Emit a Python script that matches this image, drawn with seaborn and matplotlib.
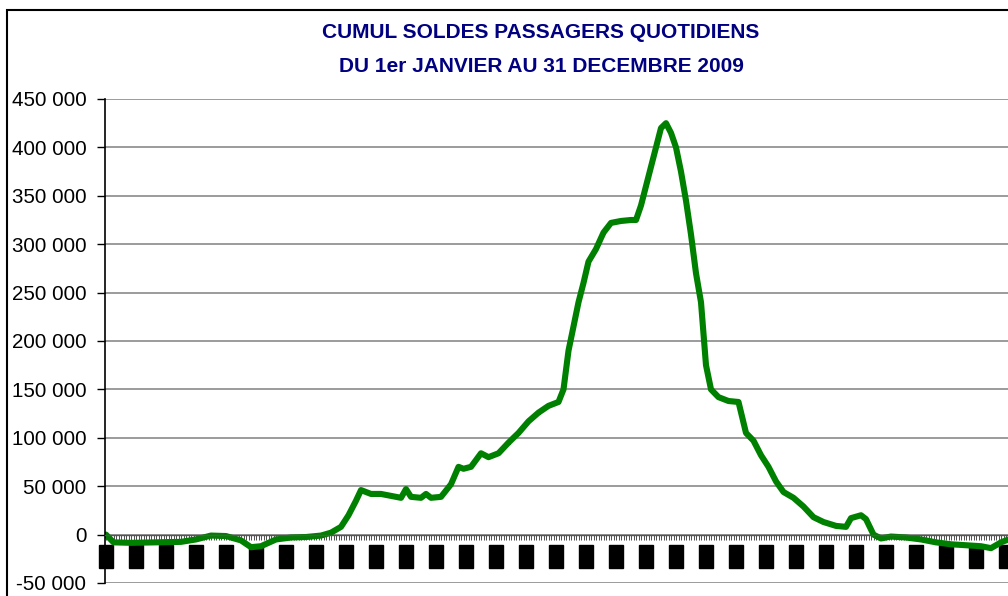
import numpy as np
import pandas as pd
import matplotlib
matplotlib.use("Agg")
import matplotlib.pyplot as plt
import matplotlib.ticker as mticker
from matplotlib.patches import Rectangle
import seaborn as sns

# cumul des soldes (jour de l'annee -> passagers)
jours = [0, 3, 10, 20, 30, 36, 42, 48, 54, 58, 62, 68, 74, 80, 86, 90, 94, 97,
         100, 102, 106, 110, 114, 118, 120, 122, 126, 128, 130, 134, 138, 141,
         143, 146, 150, 153, 157, 161, 165, 169, 173, 177, 181, 183, 185, 187,
         189, 191, 193, 196, 199, 202, 206, 210, 212, 214, 217, 220, 222, 224,
         226, 228, 230, 232, 234, 236, 238, 240, 242, 245, 249, 253, 256, 259,
         262, 265, 268, 271, 275, 279, 283, 287, 292, 296, 298, 302, 304, 307,
         310, 314, 320, 326, 332, 338, 344, 350, 354, 358, 362, 364]
soldes = [0, -8000, -8500, -8000, -7500, -5000, -1000, -1500, -6000, -13000,
          -12000, -5000, -3000, -2500, -1000, 2000, 8000, 20000, 35000, 46000,
          42000, 42000, 40000, 38000, 47000, 39000, 38000, 42000, 38000, 39000,
          52000, 70000, 68000, 70000, 84000, 80000, 84000, 95000, 105000,
          117000, 126000, 133000, 137000, 150000, 190000, 215000, 240000,
          260000, 282000, 295000, 312000, 322000, 324000, 325000, 325000,
          340000, 370000, 400000, 420000, 425000, 415000, 400000, 375000,
          345000, 310000, 270000, 240000, 175000, 150000, 142000, 138000,
          137000, 105000, 97000, 82000, 70000, 55000, 44000, 38000, 29000,
          18000, 13000, 9000, 8000, 17000, 20000, 16000, 0, -4000, -2000,
          -3000, -5000, -8000, -10000, -11000, -12000, -14000, -8000, -4000,
          -3000]

dates = pd.date_range("2009-01-01", periods=365, freq="D")
pas_etiquette = 12
etiquettes = [d.strftime("%d\n%m") for d in dates[::pas_etiquette]]

titre = "CUMUL SOLDES PASSAGERS QUOTIDIENS\nDU 1er JANVIER AU 31 DECEMBRE 2009"

df = pd.DataFrame({"jour": jours, "solde": soldes})

sns.set_theme(style="white")
plt.rcParams["font.family"] = ["Liberation Sans", "DejaVu Sans"]

W, H = 1008, 596
fig = plt.figure(figsize=(W / 100, H / 100), dpi=100)
ax = fig.add_axes([105 / W, 13 / H, 912.5 / W, 484 / H])

sns.lineplot(data=df, x="jour", y="solde", color="#008000", linewidth=4.4,
             marker="s", markersize=3.5, markeredgewidth=0, ax=ax)

ax.set_xlim(-0.4, 364.6)
ax.set_ylim(-50000, 450000)
ax.yaxis.set_major_locator(mticker.MultipleLocator(50000))
ax.yaxis.set_major_formatter(
    mticker.FuncFormatter(lambda v, p: f"{int(v):,}".replace(",", " ")))
ax.grid(axis="y", color="#808080", linewidth=1.1)
ax.set_axisbelow(True)

for s in ["top", "right"]:
    ax.spines[s].set_visible(False)
ax.spines["left"].set_color("black")
ax.spines["left"].set_linewidth(1.2)
ax.spines["bottom"].set_position(("data", 0))
ax.spines["bottom"].set_color("#555555")
ax.spines["bottom"].set_linewidth(1.0)

ax.set_xticks(np.arange(0, 365, pas_etiquette))
ax.set_xticks(np.arange(0, 365), minor=True)
ax.set_xticklabels(etiquettes, fontsize=7.5, linespacing=0.95)
for t in ax.get_xticklabels():
    t.set_bbox(dict(boxstyle="square,pad=0.15", fc="black", ec="black"))
    t.set_color("black")
ax.tick_params(axis="x", which="both", bottom=True, direction="out",
               length=3.5, width=0.6, color="#333333", pad=5)
ax.tick_params(axis="y", left=True, direction="out", length=6, width=1.0,
               color="black", pad=7.5, labelsize=14.8, labelcolor="black")
ax.set_xlabel("")
ax.set_ylabel("")

lignes = titre.split("\n")
fig.text(541 / W, 1 - 33 / H, lignes[0], ha="center", va="center",
         fontsize=15, fontweight="bold", color="#000080")
fig.text(541 / W, 1 - 67 / H, lignes[1], ha="center", va="center",
         fontsize=15, fontweight="bold", color="#000080")

fig.patches.append(Rectangle((7 / W, -0.1), 1.2, (H - 10) / H + 0.1,
                             transform=fig.transFigure, fill=False,
                             edgecolor="black", linewidth=1.5))

fig.savefig("out.png", dpi=100)
